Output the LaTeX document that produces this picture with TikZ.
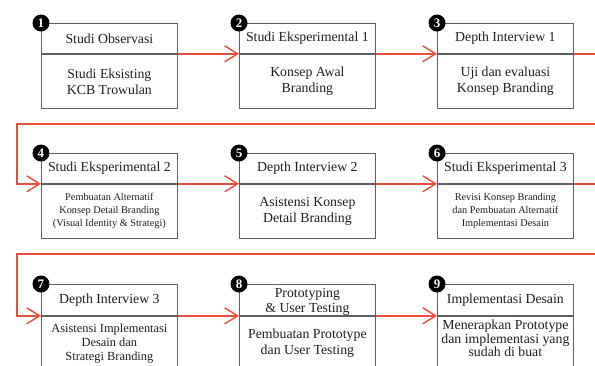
\documentclass[tikz,border=0pt]{standalone}
\usepackage{fontspec}
\setmainfont{Liberation Serif}
\usetikzlibrary{arrows.meta}
\definecolor{flow}{RGB}{232,76,61}
\definecolor{frame}{RGB}{95,95,95}
\definecolor{ink}{RGB}{30,30,30}
\tikzset{
 titlebox/.style={draw=frame, line width=0.8pt, minimum width=136pt, minimum height=30pt, anchor=north west, inner sep=1pt, align=center, text=ink, font=\fontsize{13.8}{15}\selectfont},
 bodybox/.style={draw=frame, line width=0.8pt, minimum width=136pt, minimum height=54.5pt, anchor=north, inner sep=1pt, align=center, text=ink, font=\fontsize{13.8}{16}\selectfont},
 smalltext/.style={font=\fontsize{10.3}{13}\selectfont},
 midtext/.style={font=\fontsize{12.4}{14}\selectfont},
 numdot/.style={circle, fill=black, minimum size=17pt, inner sep=0pt, text=white, font=\fontsize{13}{13}\selectfont\bfseries},
 flowline/.style={draw=flow, line width=1.4pt, -{Straight Barb[length=13pt,width=16pt]}},
}
\begin{document}
\begin{tikzpicture}[x=1pt,y=-1pt]
\useasboundingbox (0,0) rectangle (595,365);
\clip (0,0) rectangle (595,365);
\fill[white] (0,0) rectangle (595,365);

% row 1
\node[titlebox] (t1) at (41,23) {Studi Observasi};
\node[bodybox] (b1) at (t1.south) {Studi Eksisting\\KCB Trowulan};
\node[titlebox] (t2) at (239,23) {Studi Eksperimental 1};
\node[bodybox] (b2) at (t2.south) {Konsep Awal\\Branding};
\node[titlebox] (t3) at (437,23) {Depth Interview 1};
\node[bodybox] (b3) at (t3.south) {Uji dan evaluasi\\Konsep Branding};

% row 2
\node[titlebox] (t4) at (41,153) {Studi Eksperimental 2};
\node[bodybox, smalltext] (b4) at (t4.south) {Pembuatan Alternatif\\Konsep Detail Branding\\(Visual Identity \& Strategi)};
\node[titlebox] (t5) at (239,153) {Depth Interview 2};
\node[bodybox] (b5) at (t5.south) {Asistensi Konsep\\Detail Branding};
\node[titlebox] (t6) at (437,153) {Studi Eksperimental 3};
\node[bodybox, smalltext] (b6) at (t6.south) {Revisi Konsep Branding\\dan Pembuatan Alternatif\\Implementasi Desain};

% row 3
\node[titlebox, minimum height=31pt] (t7) at (41,284) {Depth Interview 3};
\node[bodybox, midtext] (b7) at (t7.south) {Asistensi Implementasi\\Desain dan\\Strategi Branding};
\node[titlebox, minimum height=31pt] (t8) at (239,284) {};
\node[inner sep=0pt, align=center, text=ink, font=\fontsize{13.8}{15}\selectfont] (t8text) at ([yshift=-2.5pt]t8.center) {Prototyping\\\& User Testing};
\node[bodybox] (b8) at (t8.south) {Pembuatan Prototype\\dan User Testing};
\node[titlebox, minimum height=31pt] (t9) at (437,284) {Implementasi Desain};
\node[bodybox] (b9) at (t9.south) {};
\node[anchor=north, inner sep=0pt, align=center, text=ink, font=\fontsize{13.8}{13.5}\selectfont] (b9text) at ([yshift=-4pt]b9.north) {Menerapkan Prototype\\dan implementasi yang\\sudah di buat};

% number badges
\foreach \i in {1,...,9} {
  \node[numdot] (n\i) at (t\i.north west) {\i};
}

% connectors
\coordinate (e1) at (612,124);
\coordinate (w1) at (17,124);
\coordinate (e2) at (612,254);
\coordinate (w2) at (17,254);

\draw[flowline] (t1.south east) -- (t2.south west);
\draw[flowline] (t2.south east) -- (t3.south west);
\draw[flowline] (t3.south east) -| (e1) -- (w1) |- (t4.south west);
\draw[flowline] (t4.south east) -- (t5.south west);
\draw[flowline] (t5.south east) -- (t6.south west);
\draw[flowline] (t6.south east) -| (e2) -- (w2) |- (t7.south west);
\draw[flowline] (t7.south east) -- (t8.south west);
\draw[flowline] (t8.south east) -- (t9.south west);
\end{tikzpicture}
\end{document}
